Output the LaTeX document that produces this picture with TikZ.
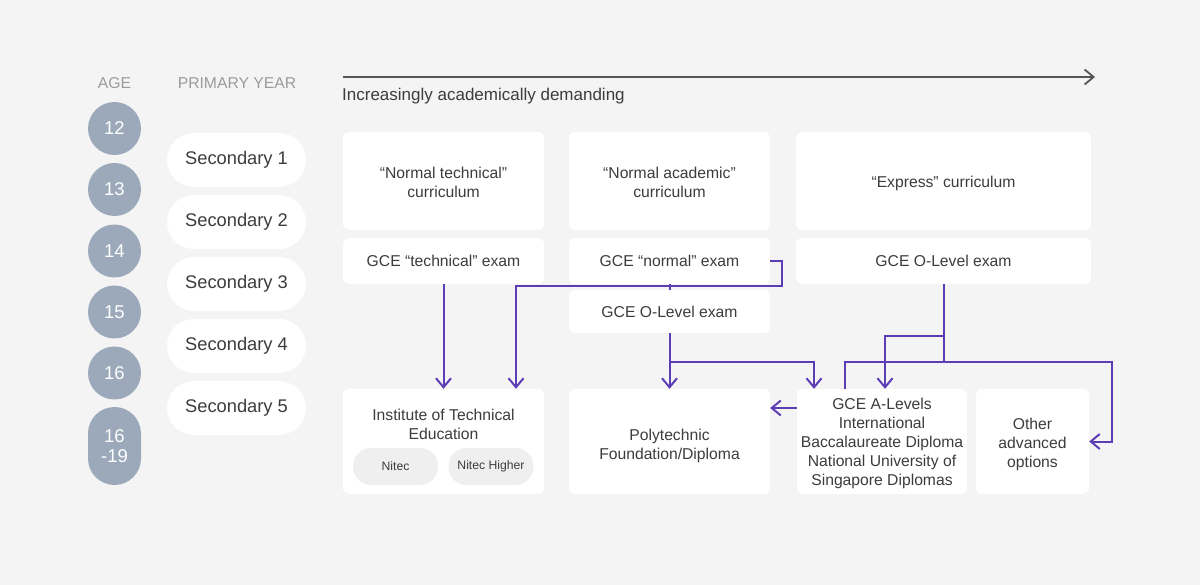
\documentclass[tikz,border=0pt]{standalone}
\usepackage{fontspec}
\setmainfont{Liberation Sans}
\usetikzlibrary{arrows.meta,calc}
\definecolor{bg}{HTML}{F4F4F4}
\definecolor{txt}{HTML}{3C3C3C}
\definecolor{hdr}{HTML}{9B9B9B}
\definecolor{agec}{HTML}{9BA9BA}
\definecolor{flowc}{HTML}{5C3DB6}
\definecolor{pillg}{HTML}{EFEFEF}
\definecolor{axisc}{HTML}{555555}
\newcommand{\lowlines}[2]{\raisebox{-#1}[\height][\depth]{\setlength{\tabcolsep}{0pt}\begin{tabular}{c}#2\end{tabular}}}
\tikzset{
  box/.style={fill=white, rounded corners=6pt, draw=none, align=center, inner sep=0pt, text=txt, font=\fontsize{15.7}{19}\selectfont},
  secpill/.style={fill=white, rounded corners=27pt, minimum width=139pt, minimum height=54pt, inner sep=0pt, text=txt, font=\fontsize{18.3}{20}\selectfont},
  agecirc/.style={fill=agec, circle, minimum size=53pt, inner sep=0pt, text=white, font=\fontsize{18.5}{20}\selectfont},
  smallpill/.style={fill=pillg, rounded corners=18pt, minimum width=85pt, minimum height=37pt, inner sep=0pt, text=txt, font=\fontsize{12.2}{13}\selectfont},
  hdrtxt/.style={text=hdr, font=\fontsize{15.7}{18}\selectfont, inner sep=0pt},
  flow/.style={draw=flowc, line width=2pt, -{Straight Barb[length=9pt,width=15pt,line width=2pt]}},
  fline/.style={draw=flowc, line width=2pt},
}
\begin{document}
\begin{tikzpicture}[x=1pt,y=-1pt]
\fill[bg] (0,0) rectangle (1200,585);
\useasboundingbox (0,0) rectangle (1200,585);

% headers
\node[hdrtxt] (hage) at (114.5,83) {AGE};
\node[hdrtxt] (hyear) at (237,83) {PRIMARY YEAR};

% ages
\node[agecirc] (a12) at (114.5,128.5) {12};
\node[agecirc] (a13) at (114.5,189.5) {13};
\node[agecirc] (a14) at (114.5,251) {14};
\node[agecirc] (a15) at (114.5,312) {15};
\node[agecirc] (a16) at (114.5,373) {16};
\node[fill=agec, rounded corners=26.5pt, minimum width=53pt, minimum height=78pt, inner sep=0pt, text=white, align=center, font=\fontsize{18.5}{21}\selectfont] (a1619) at (114.5,446) {16\\[-1pt]-19};

% secondary pills
\node[secpill] (s1) at (236.5,160) {Secondary 1};
\node[secpill] (s2) at (236.5,222) {Secondary 2};
\node[secpill] (s3) at (236.5,284) {Secondary 3};
\node[secpill] (s4) at (236.5,346) {Secondary 4};
\node[secpill] (s5) at (236.5,408) {Secondary 5};

% axis arrow
\coordinate (axs) at (343,77);
\coordinate (axe) at (1095,77);
\draw[axisc, line width=1.8pt, -{Straight Barb[length=9pt,width=15pt,line width=1.8pt]}] (axs) -- (axe);
\node[anchor=west, inner sep=0pt, text=txt, font=\fontsize{17}{19}\selectfont] (demand) at (342,96) {Increasingly academically demanding};

% curriculum boxes
\node[box, minimum width=201pt, minimum height=98pt] (c1cur) at (443.5,181) {\lowlines{3pt}{“Normal technical”\\curriculum}};
\node[box, minimum width=201pt, minimum height=98pt] (c2cur) at (669.5,181) {\lowlines{3pt}{“Normal academic”\\curriculum}};
\node[box, minimum width=295pt, minimum height=98pt] (c3cur) at (943.5,181) {\lowlines{3pt}{“Express” curriculum}};

% exam boxes
\node[box, minimum width=201pt, minimum height=46pt] (c1ex) at (443.5,261) {GCE “technical” exam};
\node[box, minimum width=201pt, minimum height=46pt] (c2ex) at (669.5,261) {GCE “normal” exam};
\node[box, minimum width=201pt, minimum height=43pt] (c2ol) at (669.5,311.5) {GCE O-Level exam};
\node[box, minimum width=295pt, minimum height=46pt] (c3ex) at (943.5,261) {GCE O-Level exam};

% destination boxes
\node[box, minimum width=201pt, minimum height=105pt] (ite) at (443.5,441.5) {};
\node[text=txt, align=center, inner sep=0pt, font=\fontsize{15.7}{19}\selectfont] (itet) at (443.5,424.5) {Institute of Technical\\Education};
\node[smallpill] (nitec) at (395.5,466.5) {Nitec};
\node[smallpill] (nitech) at (491,466.5) {Nitec Higher};
\node[box, minimum width=201pt, minimum height=105pt] (poly) at (669.5,441.5) {\lowlines{4.5pt}{Polytechnic\\Foundation/Diploma}};
\node[box, minimum width=170pt, minimum height=105pt] (alev) at (882,441.5) {\lowlines{2pt}{GCE A-Levels\\International\\Baccalaureate Diploma\\National University of\\Singapore Diplomas}};
\node[box, minimum width=113pt, minimum height=105pt] (other) at (1032.5,441.5) {\lowlines{3.5pt}{Other\\advanced\\options}};

% connectors
\draw[flow] (c1ex.south) -- (ite.north);
\draw[flow] (c2ex.east) -- ++(12,0) |- (516,286) -- (516,0 |- ite.north);
\draw[fline] (c2ex.south) -- (c2ol.north);
\draw[flow] (c2ol.south) -- (poly.north);
\draw[flow] (c2ol.south |- 0,362) -| (814,0 |- alev.north);
\draw[fline] (c3ex.south) -- (c3ex.south |- 0,362);
\draw[flow] (c3ex.south |- 0,336) -| (885,0 |- alev.north);
\draw[flow] (845,0 |- alev.north) |- (1112,362) |- (other.east);
\draw[flow] (alev.west |- 0,408) -- (poly.east |- 0,408);
\end{tikzpicture}
\end{document}
